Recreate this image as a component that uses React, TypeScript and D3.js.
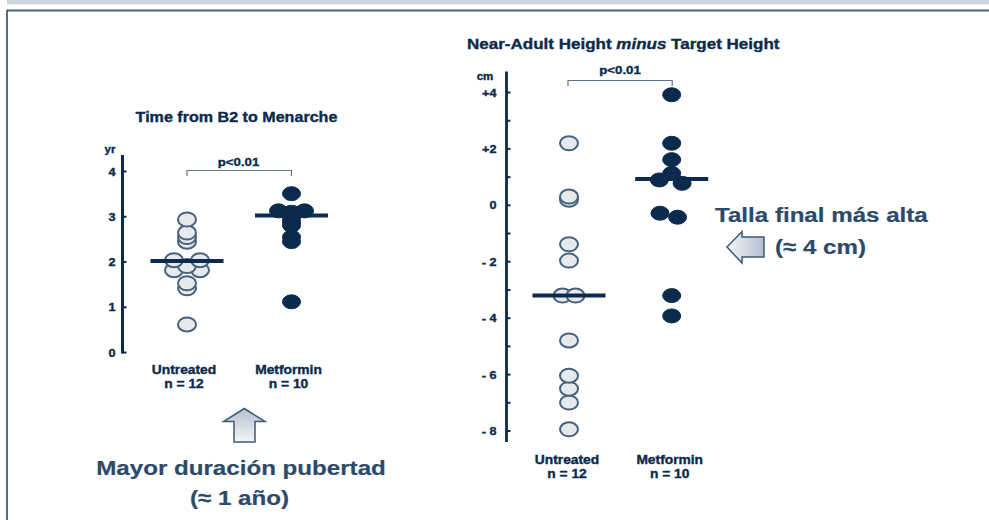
import React from "react";
import * as d3 from "d3";

// ---------- data ----------
const groups = ["Untreated", "Metformin"];
const groupN = ["n = 12", "n = 10"];

// Left panel: Time from B2 to Menarche (yr)
const b2Untreated = [2.94, 2.65, 2.55, 2.45, 2.04, 2.04, 1.91, 1.82, 1.82, 1.53, 1.42, 0.62];
const b2UntreatedLane = [0, 0, 0, 0, -1, 1, 0, -1, 1, 0, 0, 0];
const b2Metformin = [3.51, 3.13, 3.1, 3.13, 2.97, 2.89, 2.81, 2.55, 2.45, 1.12];
const b2MetforminLane = [0, -1, 0, 1, 0, 0, 0, 0, 0, 0];
const b2Medians = [2.02, 3.03];
const b2Ticks = [0, 1, 2, 3, 4];

// Right panel: Near-Adult Height minus Target Height (cm)
const hUntreated = [2.2, 0.31, 0.2, -1.38, -1.96, -3.2, -3.2, -4.79, -6.04, -6.5, -6.99, -7.94];
const hUntreatedLane = [0, 0, 0, 0, 0, -0.5, 0.5, 0, 0, 0, 0, 0];
const hMetformin = [3.92, 2.2, 1.62, 1.13, 0.9, 0.78, -0.28, -0.42, -3.2, -3.92];
const hMetforminLane = [0, 0, 0, 0, -0.95, 0.8, -0.9, 0.45, 0, 0];
const hMedians = [-3.2, 0.93];
const hTicks = [4, 2, 0, -2, -4, -6, -8];
const hTickLabels = ["+4", "+2", "0", "- 2", "- 4", "- 6", "- 8"];
const hMinorTicks = [3, 1, -1, -3, -5, -7];

const pLabel = "p<0.01";

// ---------- styles ----------
const NAVY = "#0b2a4c";
const OPEN_FILL = "#e7eaed";
const OPEN_STROKE = "#46627e";
const ANNOT = "#2c4a6a";
const FONT = "'Liberation Sans', Arial, Helvetica, sans-serif";
const SX = 1.15;

type TProps = {
  x: number;
  y: number;
  size: number;
  anchor?: "start" | "middle" | "end";
  fill?: string;
  heavy?: number;
  children: React.ReactNode;
};
function T({ x, y, size, anchor = "middle", fill = NAVY, heavy = 0.35, children }: TProps) {
  return (
    <text
      transform={`translate(${x},${y}) scale(${SX},1)`}
      textAnchor={anchor}
      fontFamily={FONT}
      fontWeight="bold"
      fontSize={size}
      fill={fill}
      stroke={fill}
      strokeWidth={heavy}
    >
      {children}
    </text>
  );
}

function Dots({
  values,
  lanes,
  cx,
  y,
  laneW,
  rx,
  ry,
  filled,
}: {
  values: number[];
  lanes: number[];
  cx: number;
  y: d3.ScaleLinear<number, number>;
  laneW: number;
  rx: number;
  ry: number;
  filled: boolean;
}) {
  const idx = values.map((_, i) => i).sort((a, b) => values[a] - values[b]);
  return (
    <g>
      {idx.map((i) => (
        <ellipse
          key={i}
          cx={cx + lanes[i] * laneW}
          cy={y(values[i])}
          rx={rx}
          ry={ry}
          fill={filled ? NAVY : OPEN_FILL}
          stroke={filled ? NAVY : OPEN_STROKE}
          strokeWidth={filled ? 1 : 2}
        />
      ))}
    </g>
  );
}

export default function App() {
  const yL = d3.scaleLinear().domain([0, 4]).range([352.5, 171.5]);
  const xL = d3.scalePoint<string>().domain(groups).range([187, 291.5]);
  const axL = 122.5;

  const yR = d3.scaleLinear().domain([-8, 4]).range([431, 92.5]);
  const xR = d3.scalePoint<string>().domain(groups).range([569, 671.7]);
  const axR = 506.5;

  const medHalf = 36.5;

  return (
    <svg
      width={989}
      height={520}
      style={{ position: "absolute", left: 0, top: 0, display: "block", background: "#fff" }}
    >
      <defs>
        <linearGradient id="arrowH" x1="0" y1="0" x2="1" y2="0">
          <stop offset="0" stopColor="#f4f6f8" />
          <stop offset="1" stopColor="#b3c0cd" />
        </linearGradient>
        <linearGradient id="arrowV" x1="0" y1="1" x2="0" y2="0">
          <stop offset="0" stopColor="#f4f6f8" />
          <stop offset="1" stopColor="#b3c0cd" />
        </linearGradient>
      </defs>

      {/* frame */}
      <rect x={7} y={0} width={982} height={4.5} fill="#cbd5de" />
      <line x1={7} y1={10.5} x2={989} y2={10.5} stroke="#4b6377" strokeWidth={2} />
      <line x1={7} y1={10} x2={7} y2={520} stroke="#2f4a63" strokeWidth={1.6} />

      {/* ---------- left panel ---------- */}
      <T x={236.5} y={121.5} size={14}>Time from B2 to Menarche</T>
      <line x1={axL} y1={155} x2={axL} y2={353.5} stroke={NAVY} strokeWidth={3} />
      {b2Ticks.map((t) => (
        <g key={t}>
          <line x1={axL} x2={axL + 4} y1={yL(t)} y2={yL(t)} stroke={NAVY} strokeWidth={2} />
          <T x={115.5} y={yL(t) + 4} size={11} anchor="end">{String(t)}</T>
        </g>
      ))}
      <T x={110} y={153} size={10}>yr</T>

      <path
        d={`M${xL("Untreated")},176 V170.5 H${xL("Metformin")} V176`}
        fill="none"
        stroke="#5d7389"
        strokeWidth={1.2}
      />
      <T x={238.5} y={165.5} size={11.5}>{pLabel}</T>

      <Dots values={b2Untreated} lanes={b2UntreatedLane} cx={xL("Untreated")!} y={yL} laneW={13} rx={9} ry={7} filled={false} />
      <Dots values={b2Metformin} lanes={b2MetforminLane} cx={xL("Metformin")!} y={yL} laneW={13} rx={9} ry={7} filled={true} />
      {groups.map((g, i) => (
        <line
          key={g}
          x1={xL(g)! - medHalf}
          x2={xL(g)! + medHalf}
          y1={yL(b2Medians[i])}
          y2={yL(b2Medians[i])}
          stroke={NAVY}
          strokeWidth={4}
        />
      ))}
      {groups.map((g, i) => (
        <g key={g}>
          <T x={xL(g)! - 3} y={374} size={12}>{g}</T>
          <T x={xL(g)! - 3} y={387.5} size={12}>{groupN[i]}</T>
        </g>
      ))}

      {/* ---------- right panel ---------- */}
      <text
        transform={`translate(467,48.5) scale(${SX},1)`}
        textAnchor="start"
        fontFamily={FONT}
        fontWeight="bold"
        fontSize={14.8}
        fill={NAVY}
        stroke={NAVY}
        strokeWidth={0.35}
      >
        Near-Adult Height <tspan fontStyle="italic">minus</tspan> Target Height
      </text>
      <line x1={axR} y1={71.5} x2={axR} y2={442} stroke={NAVY} strokeWidth={2.8} />
      {hTicks.map((t, i) => (
        <g key={t}>
          <line x1={axR} x2={axR + 4} y1={yR(t)} y2={yR(t)} stroke={NAVY} strokeWidth={2} />
          <T x={496.5} y={yR(t) + 4} size={11} anchor="end">{hTickLabels[i]}</T>
        </g>
      ))}
      {hMinorTicks.map((t) => (
        <line key={t} x1={axR} x2={axR + 4} y1={yR(t)} y2={yR(t)} stroke={NAVY} strokeWidth={2} />
      ))}
      <T x={485} y={80} size={10}>cm</T>

      <path
        d={`M${xR("Untreated")! - 1},86 V80.5 H${xR("Metformin")! + 0.5} V86`}
        fill="none"
        stroke="#5d7389"
        strokeWidth={1.2}
      />
      <T x={620} y={73.5} size={11.5}>{pLabel}</T>

      <Dots values={hUntreated} lanes={hUntreatedLane} cx={xR("Untreated")!} y={yR} laneW={13} rx={9} ry={7} filled={false} />
      <Dots values={hMetformin} lanes={hMetforminLane} cx={xR("Metformin")!} y={yR} laneW={13} rx={9} ry={7} filled={true} />
      {groups.map((g, i) => (
        <line
          key={g}
          x1={xR(g)! - medHalf}
          x2={xR(g)! + medHalf}
          y1={yR(hMedians[i])}
          y2={yR(hMedians[i])}
          stroke={NAVY}
          strokeWidth={4}
        />
      ))}
      {groups.map((g, i) => (
        <g key={g}>
          <T x={xR(g)! - 2} y={463.5} size={12}>{g}</T>
          <T x={xR(g)! - 2} y={477.5} size={12}>{groupN[i]}</T>
        </g>
      ))}

      {/* ---------- annotations ---------- */}
      <path
        d="M727,247 L742,231.5 L742,237 L764,237 L764,257 L742,257 L742,263 Z"
        fill="url(#arrowH)"
        stroke="#3f5a74"
        strokeWidth={1.5}
      />
      <T x={715} y={221.5} size={21} anchor="start" fill={ANNOT} heavy={0.2}>Talla final más alta</T>
      <T x={775} y={253.5} size={21} anchor="start" fill={ANNOT} heavy={0.2}>(≈ 4 cm)</T>

      <path
        d="M244.3,408.5 L265,421.5 L255,421.5 L255,442 L234,442 L234,421.5 L223.5,421.5 Z"
        fill="url(#arrowV)"
        stroke="#3f5a74"
        strokeWidth={1.5}
      />
      <T x={241} y={475} size={21} fill={ANNOT} heavy={0.2}>Mayor duración pubertad</T>
      <T x={239.5} y={504.5} size={21} fill={ANNOT} heavy={0.2}>(≈ 1 año)</T>
    </svg>
  );
}
